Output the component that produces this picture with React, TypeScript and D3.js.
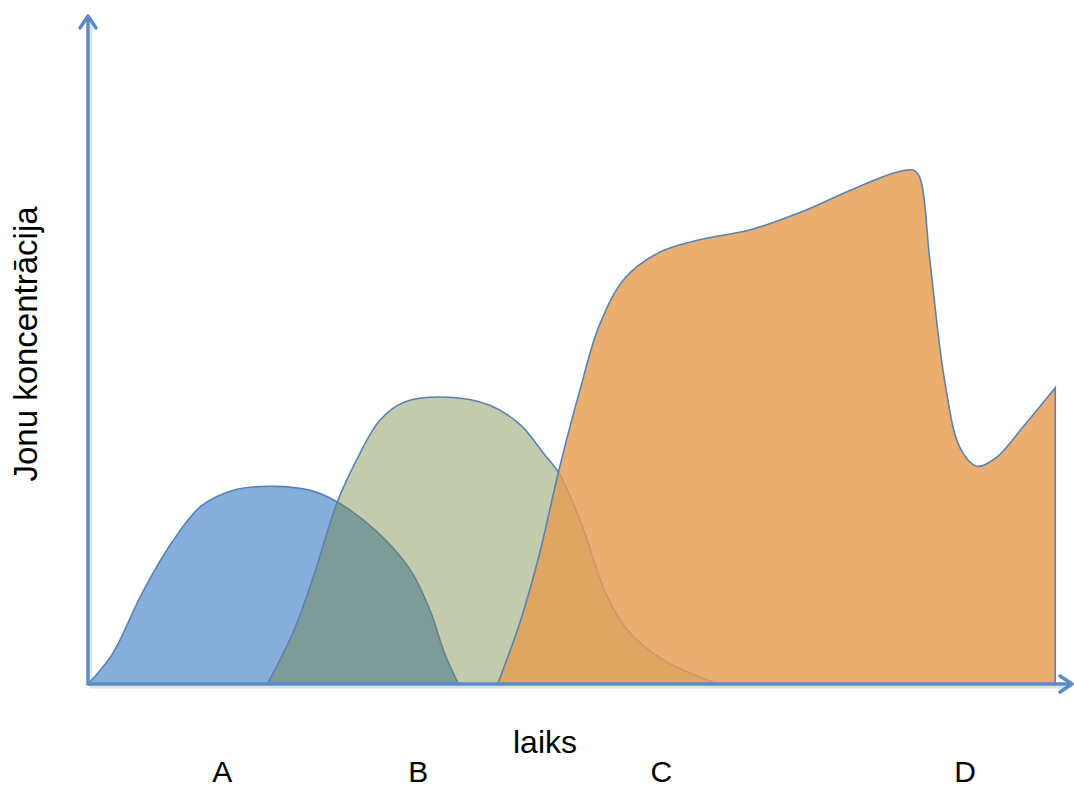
import React from "react";
import * as d3 from "d3";

// time (0..100) vs concentration (0..100)
const seriesA_t = [0, 2.5, 5.5, 8.5, 11.5, 15.0, 19.0, 22.7, 25.4, 29.5, 32.9, 34.9, 36.4, 37.8];
const seriesA_v = [0, 4.5, 13.5, 21.0, 26.5, 29.0, 29.5, 28.9, 27.2, 22.7, 17.0, 11.0, 4.5, 0];

const seriesB_t = [18.3, 20.9, 23.0, 25.4, 27.4, 29.8, 32.3, 36.9, 41.0, 44.1, 46.6, 48.0, 50.2, 53.0, 55.3, 58.7, 63.2, 64.5];
const seriesB_v = [0, 7.6, 16.0, 27.0, 33.4, 39.4, 42.1, 42.8, 41.6, 38.7, 34.2, 31.6, 24.5, 13.0, 7.6, 3.6, 0.6, 0];

const seriesC_t = [41.8, 44.1, 46.1, 48.0, 50.2, 52.2, 54.8, 58.4, 62.4, 67.6, 72.7, 77.8, 82.3, 84.2, 84.9, 85.9, 87.4, 89.0, 90.7, 92.6, 95.6, 98.7];
const seriesC_v = [0, 9.3, 19.6, 31.6, 43.9, 53.6, 60.6, 64.5, 66.3, 67.8, 70.4, 73.7, 76.3, 76.7, 75.5, 63.3, 45.4, 35.2, 32.5, 33.7, 38.7, 44.2];

const xLabels = [
  { label: "A", t: 13.7 },
  { label: "B", t: 33.7 },
  { label: "C", t: 58.5 },
  { label: "D", t: 89.5 },
];
const xTitle = "laiks";
const yTitle = "Jonu koncentrācija";

const W = 1074;
const H = 788;
const X0 = 88;
const X1 = 1068;
const Y0 = 684;
const Y1 = 14;

export default function App() {
  const x = d3.scaleLinear().domain([0, 100]).range([X0, X1]);
  const y = d3.scaleLinear().domain([0, 100]).range([Y0, Y1]);

  const area = d3
    .area<[number, number]>()
    .x((d) => x(d[0]))
    .y0(y(0))
    .y1((d) => y(d[1]))
    .curve(d3.curveCatmullRom.alpha(0.5));

  const mk = (t: number[], v: number[]) => t.map((ti, i) => [ti, v[i]] as [number, number]);

  const pathA = area(mk(seriesA_t, seriesA_v)) || "";
  const pathB = area(mk(seriesB_t, seriesB_v)) || "";
  const pathC = area(mk(seriesC_t, seriesC_v)) || "";

  const axisColor = "#5b8cc8";
  const outline = "#5a82b4";
  const font = "Liberation Sans, Arial, sans-serif";

  const tipY = 16;
  const tipX = 1072;

  return (
    <svg
      width={W}
      height={H}
      style={{ position: "absolute", left: 0, top: 0, background: "#fff" }}
    >
      {/* axis shadows */}
      <line x1={X0 + 2} y1={Y0 + 3} x2={tipX - 4} y2={Y0 + 3} stroke="#000" strokeOpacity={0.12} strokeWidth={3} />
      <line x1={X0 + 3} y1={tipY + 4} x2={X0 + 3} y2={Y0 + 2} stroke="#000" strokeOpacity={0.1} strokeWidth={3} />

      <path d={pathA} fill="#87addb" stroke={outline} strokeWidth={1.6} />
      <path d={pathB} fill="#718640" fillOpacity={0.43} stroke={outline} strokeWidth={1.6} />
      <path d={pathC} fill="#e59c52" fillOpacity={0.82} stroke={outline} strokeWidth={1.6} />

      {/* axes */}
      <line x1={X0} y1={Y0} x2={tipX - 1} y2={Y0} stroke={axisColor} strokeWidth={3.5} />
      <line x1={X0} y1={Y0 + 1.5} x2={X0} y2={tipY + 1} stroke={axisColor} strokeWidth={3.5} />
      <polyline
        points={`${X0 - 8},${tipY + 12} ${X0},${tipY} ${X0 + 8},${tipY + 12}`}
        fill="none"
        stroke={axisColor}
        strokeWidth={3.5}
        strokeLinecap="round"
        strokeLinejoin="round"
      />
      <polyline
        points={`${tipX - 12},${Y0 - 8} ${tipX},${Y0} ${tipX - 12},${Y0 + 8}`}
        fill="none"
        stroke={axisColor}
        strokeWidth={3.5}
        strokeLinecap="round"
        strokeLinejoin="round"
      />

      <text x={545} y={753} textAnchor="middle" fontFamily={font} fontSize={32} fill="#000">
        {xTitle}
      </text>
      {xLabels.map((d) => (
        <text key={d.label} x={x(d.t)} y={782} textAnchor="middle" fontFamily={font} fontSize={30} fill="#000">
          {d.label}
        </text>
      ))}
      <text
        transform={`translate(37,344) rotate(-90)`}
        textAnchor="middle"
        fontFamily={font}
        fontSize={33}
        fill="#000"
      >
        {yTitle}
      </text>
    </svg>
  );
}
